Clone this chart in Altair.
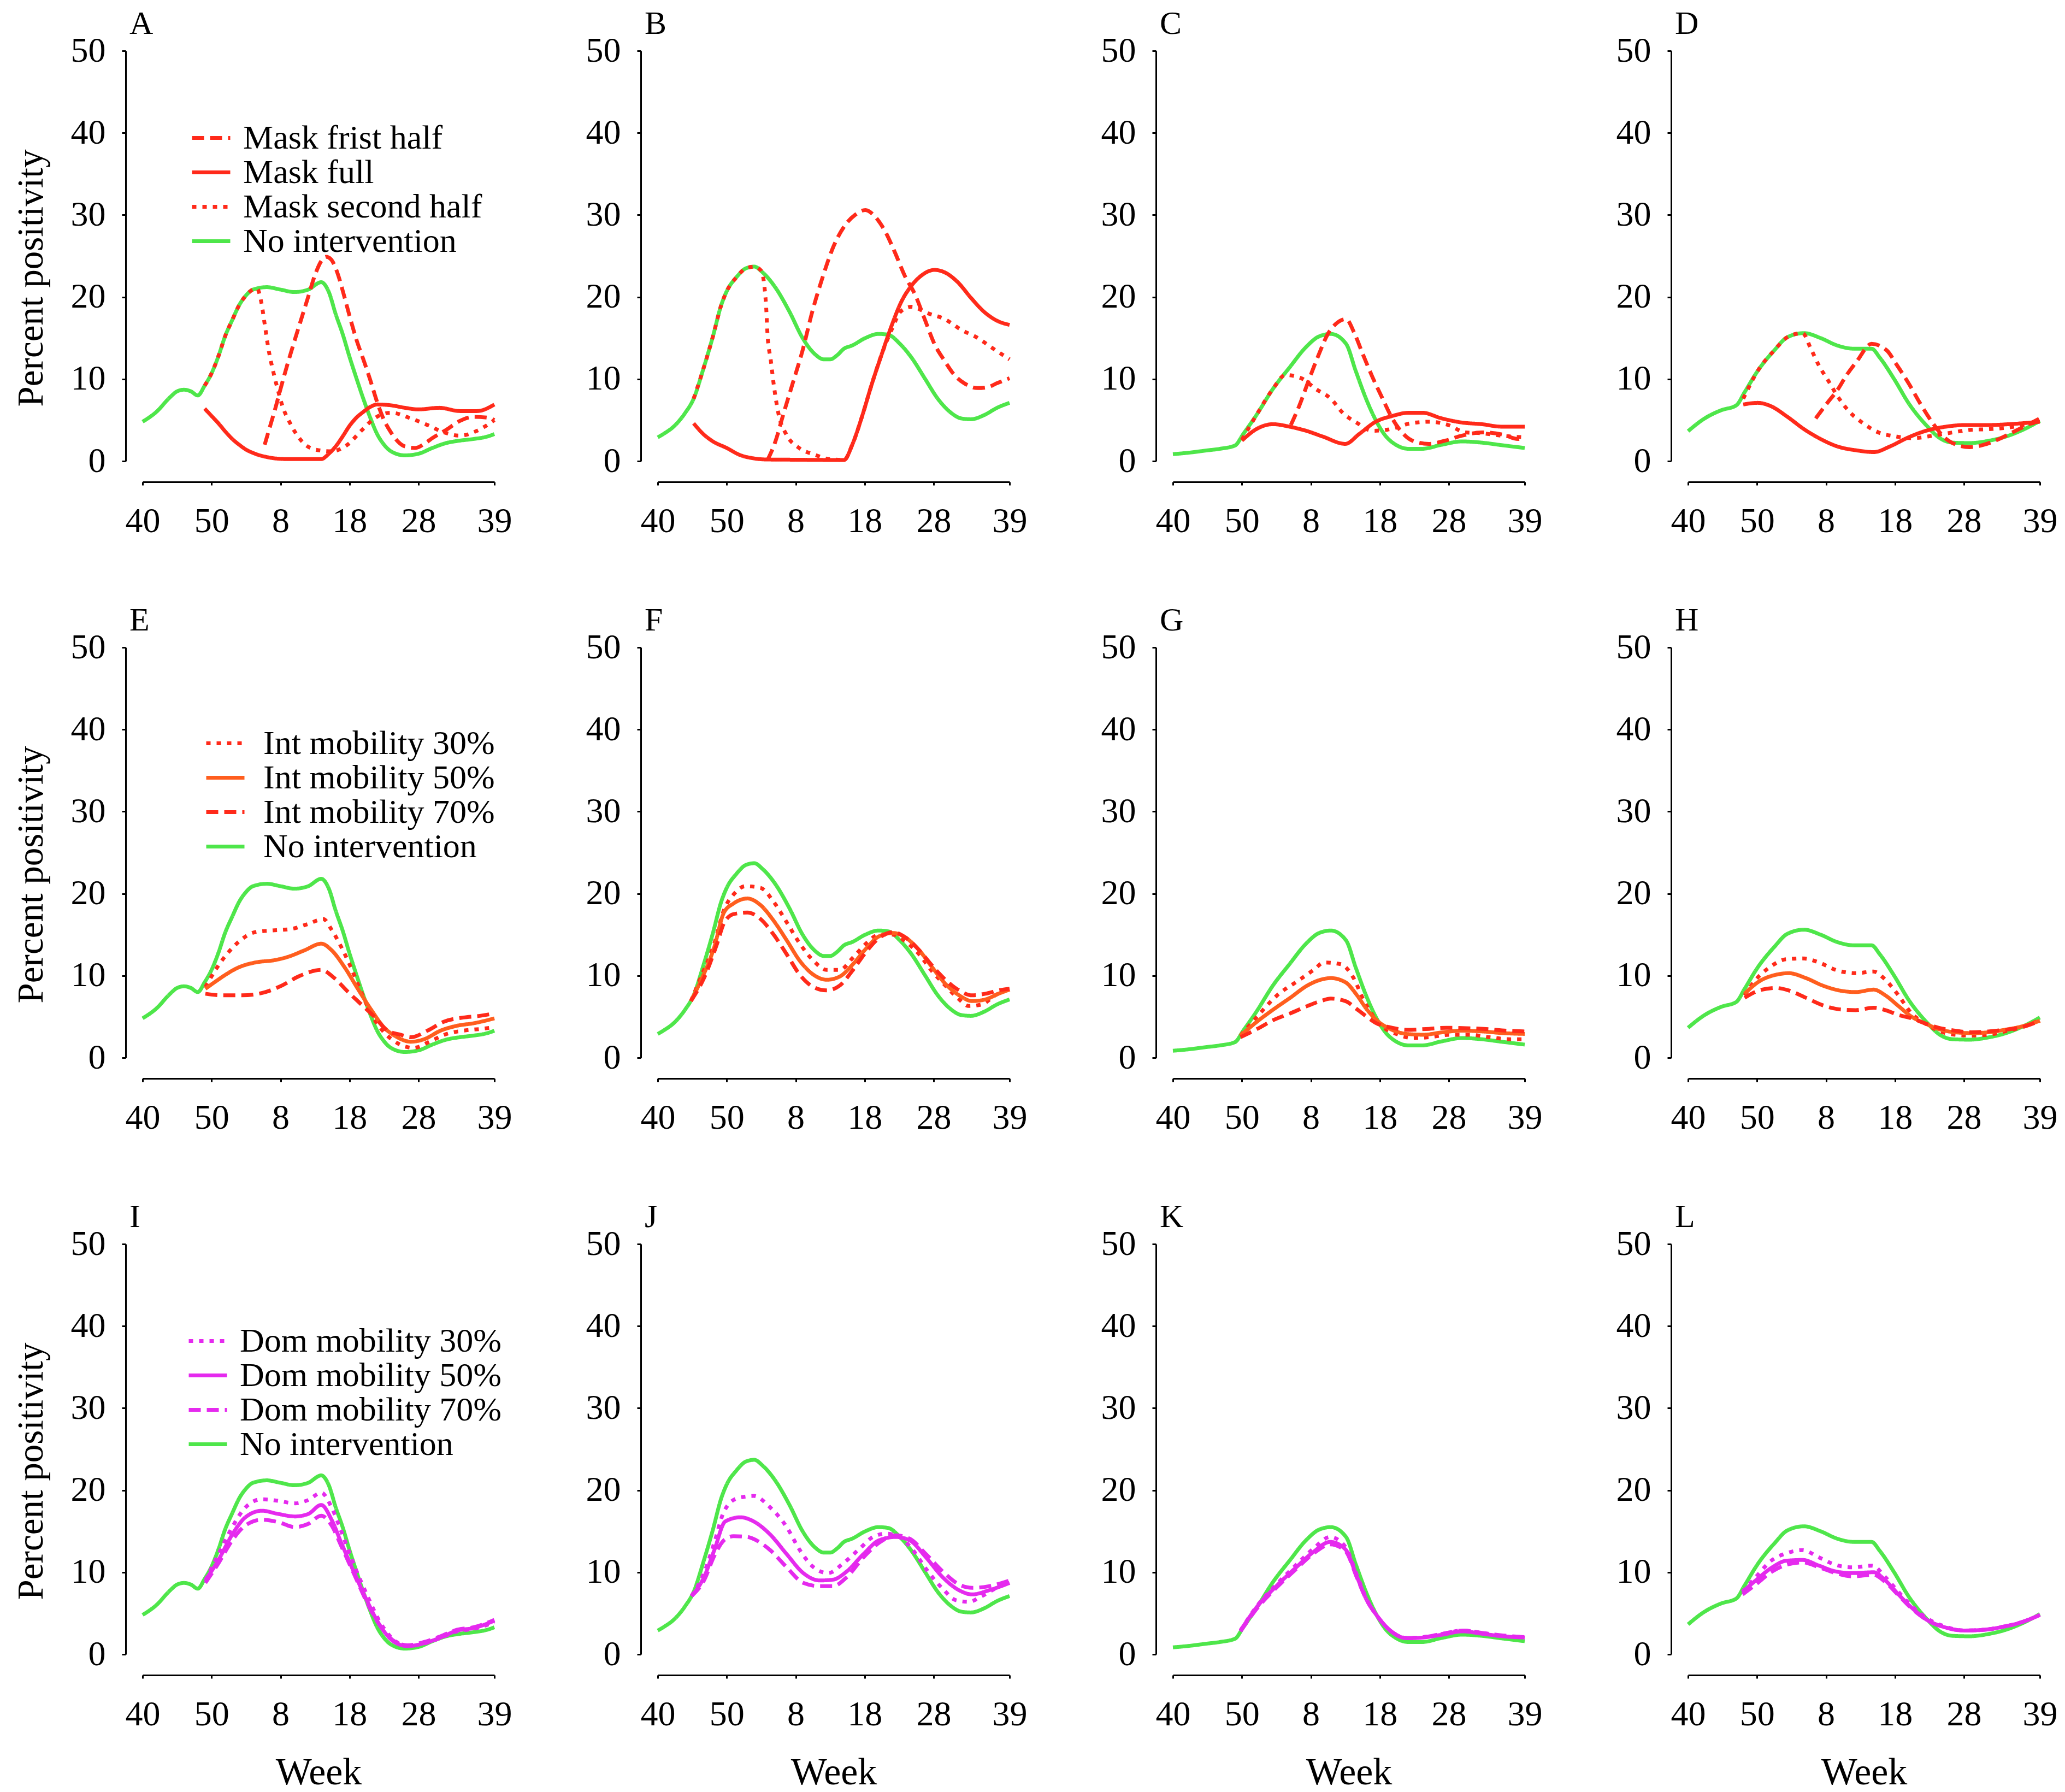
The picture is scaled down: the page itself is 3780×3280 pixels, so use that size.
import altair as alt
import pandas as pd

FONT = "Liberation Serif"
RED = "#FF2A1A"
GREEN = "#4EE64A"
ORANGE = "#FF5E1E"
MAGENTA = "#E52AEE"
NOI = "No intervention"

# x = week index (0 = week 40 ... 12 = week 52, 13 = week 1 ... 51 = week 39)
WEEK_TICKS = [0, 10, 20, 30, 40, 51]
WEEK_LABELS = ["40", "50", "8", "18", "28", "39"]
Y_TICKS = [0, 10, 20, 30, 40, 50]

# ---------------- No intervention (shared by each column) ----------------
GREEN_COL1 = [(0, 4.8), (2, 6.0), (4, 7.8), (5, 8.5), (6, 8.7), (7, 8.5), (8, 8.0), (9, 9.2), (10, 10.7),
              (11, 12.8), (12, 15.3), (13, 17.2), (14, 19.0), (15, 20.2), (16, 20.9), (18, 21.2), (20, 20.9),
              (22, 20.6), (24, 20.9), (25.9, 21.8), (27, 20.6), (28, 17.9), (29, 15.5), (30, 12.7), (31, 10.1),
              (32, 7.6), (33, 5.3), (34, 3.3), (35, 2.0), (36, 1.2), (38, 0.7), (40, 0.9), (42, 1.6), (44, 2.2),
              (46, 2.5), (48, 2.7), (50, 3.0), (51, 3.3)]
GREEN_COL2 = [(0, 2.9), (1, 3.4), (2.3, 4.2), (4, 5.9), (5.2, 7.6), (6.6, 11.2), (8, 15.2), (9.2, 19.0), (10, 20.7),
              (11.4, 22.4), (12.8, 23.5), (14, 23.7), (15.2, 23.0), (17.1, 21.1), (19.1, 18.2), (21, 15.0),
              (22.7, 13.1), (24.1, 12.4), (25, 12.4), (26, 12.9), (27, 13.7), (28.2, 14.1), (30.1, 15.0),
              (32, 15.5), (33.4, 15.4), (35.1, 14.3), (36.8, 12.6), (38.7, 10.1), (40.6, 7.6), (42.5, 5.9),
              (44, 5.2), (45.4, 5.1), (47.3, 5.6), (49.2, 6.5), (51, 7.1)]
GREEN_COL3 = [(0, 0.85), (2, 1.0), (4.9, 1.3), (6.8, 1.5), (9, 1.9), (10.2, 3.3), (12.1, 5.6), (14.5, 8.8),
              (16.9, 11.4), (19.3, 13.9), (21.2, 15.2), (22.9, 15.5), (25.1, 14.3), (26.5, 11.0), (28, 7.6),
              (29.4, 5.0), (30.8, 3.1), (32.3, 2.0), (34.2, 1.5), (36.1, 1.5), (39, 2.0), (41.9, 2.4),
              (44.8, 2.25), (47.6, 1.95), (51, 1.6)]
GREEN_COL4 = [(0, 3.65), (2.4, 5.2), (4.8, 6.2), (7, 6.8), (8.2, 8.4), (10.1, 11.0), (12.5, 13.5), (14.4, 15.1),
              (16.8, 15.6), (19.2, 15.0), (21.6, 14.1), (24, 13.7), (26.6, 13.7), (27.8, 12.6), (29.8, 10.1),
              (32.1, 6.9), (34.5, 4.4), (36.5, 2.8), (38.4, 2.25), (40.8, 2.2), (43.7, 2.5), (46.1, 3.0),
              (48.5, 3.8), (51, 4.9)]

# ---------------- Row 1: masks (first half, full, second half) ----------------
A_FIRST = [(17.7, 2.0), (18.5, 4.3), (19.2, 6.3), (20, 8.8), (21, 11.8), (22, 14.6), (23, 17.3), (24, 20.0),
           (25, 22.7), (26, 24.5), (26.6, 24.9), (27.3, 24.6), (28.3, 22.8), (29, 20.8), (30, 17.7), (31, 14.8),
           (32, 12.4), (33, 9.9), (34, 7.2), (35, 5.0), (36, 3.5), (37, 2.4), (38, 1.8), (39.5, 1.6), (41, 2.2),
           (42, 2.8), (44, 3.8), (46, 4.9), (48, 5.4), (50, 5.3), (51, 5.0)]
A_FULL = [(9, 6.4), (10, 5.5), (11, 4.6), (12, 3.6), (13, 2.7), (14, 2.0), (15, 1.4), (16, 1.0), (17, 0.7),
          (18, 0.5), (19, 0.35), (21, 0.25), (25.9, 0.25), (27, 0.9), (28, 1.8), (29, 3.0), (30, 4.3), (31, 5.3),
          (32, 6.0), (33, 6.6), (34, 6.9), (36, 6.8), (38, 6.5), (40, 6.3), (43, 6.5), (46, 6.1), (48.5, 6.1),
          (51, 6.9)]
A_SECOND = [(9, 9.2), (10, 10.7), (11, 12.8), (12, 15.3), (13, 17.2), (14, 19.0), (15, 20.2), (16, 20.9),
            (16.6, 21.0), (17.2, 19.4), (17.7, 16.7), (18.2, 13.9), (19, 10.7), (19.7, 8.4), (20.2, 6.9),
            (21.4, 4.6), (22.8, 2.7), (25, 1.4), (27.4, 1.2), (29.7, 2.0), (31.7, 3.7), (33.6, 5.2), (36, 5.9),
            (38.9, 5.2), (41.3, 4.4), (43.7, 3.5), (46, 3.1), (48.5, 3.7), (51, 5.0)]

B_FIRST = [(15.9, 0.1), (17.1, 2.5), (18.1, 5.4), (19.5, 9.3), (21, 13.5), (22.4, 18.2), (23.9, 22.4),
           (25.5, 26.2), (27.2, 28.8), (28.6, 30.0), (30.1, 30.6), (31.5, 29.8), (32.9, 28.1), (34.4, 25.4),
           (35.8, 22.6), (37.3, 20.3), (38.7, 17.3), (40.1, 14.3), (41.6, 12.2), (43, 10.5), (44.4, 9.5),
           (46.4, 8.9), (47.8, 9.0), (49.2, 9.5), (51, 10.1)]
B_FULL = [(5.2, 4.6), (6.6, 3.3), (8, 2.4), (10, 1.6), (11.9, 0.75), (13.8, 0.35), (15.7, 0.2), (20, 0.17),
          (27, 0.13), (28.2, 2.0), (29.6, 5.4), (31, 9.3), (32.5, 13.1), (33.9, 16.5), (35.3, 19.4), (36.8, 21.4),
          (38.2, 22.6), (40.1, 23.3), (41.6, 23.0), (43.5, 21.8), (45.4, 19.9), (47.3, 18.2), (49.2, 17.1),
          (51, 16.6)]
B_SECOND = [(5.2, 7.6), (6.6, 11.2), (8, 15.2), (9.2, 19.0), (10, 20.7), (11.4, 22.4), (12.8, 23.5), (14, 23.7),
            (15.0, 23.2), (15.7, 19.0), (15.9, 15.6), (16.4, 12.2), (16.9, 8.8), (17.6, 5.4), (18.6, 3.3),
            (20.5, 1.6), (22.7, 0.8), (24.8, 0.25), (27, 0.15), (28.2, 2.0), (29.6, 5.4), (31, 9.3), (32.5, 13.1),
            (33.9, 16.0), (35.3, 18.3), (36.8, 18.8), (39.2, 18.0), (41.6, 17.3), (44, 16.0), (46.4, 15.0),
            (48.3, 13.9), (51, 12.4)]

C_FIRST = [(17.1, 4.4), (18.3, 6.7), (19.8, 10.1), (21.2, 13.1), (22.4, 15.4), (23.6, 16.7), (25.1, 17.3),
           (26.3, 15.6), (27.5, 13.1), (28.9, 10.3), (30.4, 7.6), (31.8, 5.2), (33.2, 3.5), (34.7, 2.5),
           (37.1, 2.1), (39.5, 2.5), (41.9, 3.1), (44.8, 3.5), (48, 3.2), (50, 2.7), (51, 2.9)]
C_FULL = [(10, 2.5), (12.1, 3.9), (14.5, 4.5), (16.9, 4.2), (19.3, 3.7), (21.7, 3.0), (25, 2.1), (27, 3.3),
          (29.4, 4.8), (31.8, 5.5), (34.2, 5.9), (36.1, 5.9), (39, 5.2), (41.9, 4.7), (44.8, 4.5), (47.6, 4.2),
          (51, 4.2)]
C_SECOND = [(10, 2.6), (12.1, 5.6), (14.5, 8.8), (16.3, 10.5), (18.6, 10.1), (20.7, 8.8), (22.9, 7.6),
            (24.6, 5.9), (26.8, 4.6), (28.9, 3.7), (31.6, 3.9), (34.4, 4.6), (37.1, 4.8), (39.9, 4.4),
            (42.4, 3.5), (44.8, 3.4), (47.6, 3.1), (51, 2.9)]

D_FIRST = [(18.5, 5.2), (20.2, 7.1), (21.6, 8.6), (23, 10.5), (24.5, 12.2), (26.6, 14.3), (28.8, 13.5),
           (30.2, 11.8), (32.1, 9.3), (33.6, 7.1), (35.5, 4.6), (36.9, 3.1), (38.9, 2.0), (40.8, 1.7),
           (42.7, 1.95), (45.1, 2.7), (47.5, 3.7), (51, 5.2)]
D_FULL = [(8, 6.9), (10.1, 7.1), (12, 6.7), (14.4, 5.4), (16.8, 3.9), (19.2, 2.7), (21.6, 1.8), (24.5, 1.3),
          (26.9, 1.1), (29.3, 1.8), (31.7, 2.8), (34.5, 3.7), (37.4, 4.2), (40.3, 4.4), (43.7, 4.4), (46.5, 4.5),
          (51, 4.8)]
D_SECOND = [(8, 7.6), (10.1, 11.0), (12.5, 13.5), (14.4, 15.1), (16.6, 15.6), (17.8, 13.7), (19, 11.6),
            (20.4, 9.7), (21.6, 8.0), (23.3, 6.1), (25.4, 4.6), (27.6, 3.5), (30.2, 3.0), (32.6, 2.8), (35.5, 3.1),
            (38.4, 3.5), (40.8, 3.8), (43.7, 3.9), (46.5, 4.1), (51, 4.8)]

# ---------------- Row 2: international mobility (30 %, 50 %, 70 %) ----------------
E_30 = [(9.1, 8.6), (10.8, 11.0), (12.5, 12.9), (13.9, 14.1), (16.3, 15.3), (18.7, 15.5), (21.6, 15.7), (24, 16.3),
        (26.2, 16.9), (27.4, 15.6), (28.8, 13.5), (30.2, 11.0), (31.7, 8.0), (33.1, 5.4), (35, 3.1), (36.9, 1.8),
        (39.3, 1.2), (41.7, 2.0), (44.1, 2.9), (46.5, 3.3), (48.9, 3.5), (51, 3.7)]
E_50 = [(9.1, 8.4), (10.6, 9.3), (12, 10.1), (13.9, 11.0), (16.3, 11.6), (19.2, 11.9), (21.1, 12.3), (23.5, 13.1),
        (25.9, 13.9), (27.4, 13.1), (29.3, 11.0), (31.2, 8.4), (33.1, 5.9), (35, 3.7), (36.9, 2.5), (38.9, 1.95),
        (40.8, 2.25), (43.2, 3.3), (45.6, 3.9), (48, 4.2), (51, 4.8)]
E_70 = [(9.1, 7.8), (11.5, 7.6), (14.4, 7.6), (17.8, 8.0), (20.2, 8.8), (22.6, 9.9), (25.9, 10.7), (27.8, 9.7),
        (29.8, 8.0), (31.7, 6.5), (33.6, 5.0), (35.5, 3.3), (37.4, 2.8), (38.9, 2.5), (41.3, 3.3), (43.7, 4.4),
        (46.5, 4.9), (48.9, 5.1), (51, 5.4)]

F_30 = [(4.8, 6.9), (6.2, 9.7), (8.2, 13.9), (9.6, 18.0), (11, 19.9), (12.7, 20.9), (14.9, 20.7), (16.8, 19.0),
        (18.7, 16.5), (20.6, 13.9), (22.6, 11.8), (24.5, 10.7), (26.4, 10.7), (28.3, 12.2), (30.2, 13.9),
        (32.1, 15.0), (34.1, 15.0), (36, 14.1), (37.9, 12.6), (39.8, 10.5), (41.7, 8.8), (43.7, 7.1), (45.1, 6.3),
        (47, 6.5), (48.9, 7.6), (51, 8.4)]
F_50 = [(4.8, 6.9), (6.2, 9.3), (8.2, 13.5), (9.6, 17.7), (11, 18.8), (13, 19.4), (14.9, 18.6), (16.8, 16.7),
        (18.7, 14.3), (20.6, 11.8), (22.6, 10.1), (24.5, 9.5), (26.4, 9.9), (28.3, 11.4), (30.2, 13.3),
        (32.1, 14.8), (34.1, 15.2), (36, 14.6), (37.9, 13.1), (39.8, 11.0), (41.7, 9.0), (43.7, 7.6), (45.6, 6.9),
        (47.5, 7.1), (49.4, 7.8), (51, 8.3)]
F_70 = [(4.8, 6.9), (6.7, 9.7), (8.6, 13.9), (9.6, 16.4), (11, 17.5), (13, 17.7), (14.9, 16.9), (16.8, 15.0),
        (18.7, 12.6), (20.6, 10.1), (22.6, 8.6), (24.5, 8.2), (26.4, 8.8), (28.3, 10.7), (30.2, 12.9), (32.1, 14.6),
        (34.1, 15.3), (36, 14.6), (37.9, 13.1), (39.8, 11.2), (41.7, 9.5), (43.7, 8.2), (45.6, 7.6), (47.5, 7.8),
        (49.4, 8.2), (51, 8.4)]

G_30 = [(9.8, 2.7), (12.2, 5.0), (15.1, 7.6), (18, 9.3), (20.4, 10.7), (21.9, 11.6), (24.3, 11.4), (26.2, 9.7),
        (27.6, 7.1), (29.1, 5.0), (30.5, 3.7), (32.4, 2.9), (34.8, 2.4), (37.2, 2.5), (40.1, 2.8), (43, 2.8),
        (45.9, 2.5), (48.8, 2.25), (51, 2.25)]
G_50 = [(9.8, 2.7), (12.2, 4.4), (14.6, 5.9), (17, 7.3), (19.5, 8.8), (21.4, 9.5), (22.9, 9.7), (25, 9.2),
        (26.7, 7.6), (28.1, 5.9), (29.5, 4.6), (31.5, 3.5), (33.9, 2.9), (36.3, 2.8), (39.1, 3.1), (42, 3.3),
        (44.9, 3.2), (47.8, 3.0), (51, 2.9)]
G_70 = [(9.8, 2.5), (12.2, 3.5), (14.6, 4.6), (17, 5.4), (19.5, 6.3), (21.4, 6.9), (22.9, 7.2), (25, 6.9),
        (26.7, 5.9), (28.1, 5.0), (29.5, 4.2), (31.5, 3.7), (33.9, 3.4), (36.7, 3.5), (39.6, 3.65), (42.5, 3.6),
        (45.4, 3.5), (48.3, 3.3), (51, 3.2)]

H_30 = [(8.2, 7.6), (9.8, 9.5), (11.8, 11.0), (14.2, 12.0), (16.6, 12.1), (19, 11.6), (21.4, 10.7), (24.3, 10.3),
        (26.9, 10.5), (28.6, 9.5), (30.5, 7.6), (32.4, 5.4), (34.3, 4.2), (36.3, 3.3), (38.7, 2.8), (41.1, 2.7),
        (43.5, 2.8), (45.9, 3.2), (48.3, 3.7), (51, 4.6)]
H_50 = [(8.2, 7.8), (10.3, 9.3), (12.7, 10.1), (14.6, 10.3), (17.1, 9.7), (19.5, 8.8), (21.9, 8.2), (24.3, 8.0),
        (26.9, 8.3), (28.6, 7.6), (30.5, 6.3), (32.4, 5.0), (34.3, 4.2), (36.3, 3.5), (38.7, 3.1), (41.1, 3.0),
        (43.5, 3.1), (45.9, 3.4), (48.3, 3.8), (51, 4.5)]
H_70 = [(8.2, 7.3), (10.3, 8.2), (12.7, 8.5), (14.6, 8.2), (17.1, 7.3), (19.5, 6.4), (21.9, 5.9), (24.3, 5.8),
        (26.9, 6.1), (28.6, 5.8), (30.5, 5.2), (32.4, 4.8), (34.3, 4.2), (36.3, 3.65), (38.7, 3.3), (41.1, 3.1),
        (43.5, 3.2), (45.9, 3.4), (48.3, 3.7), (51, 4.5)]

# ---------------- Row 3: domestic mobility (30 %, 50 %, 70 %) ----------------
I_30 = [(9.1, 9.0), (11, 12.2), (13, 15.5), (14.9, 17.9), (17.3, 18.9), (19.7, 18.7), (22.1, 18.4), (24, 18.8),
        (25.9, 19.7), (27.4, 17.9), (28.8, 15.0), (30.7, 10.8), (32.6, 7.1), (34.5, 3.8), (36.5, 1.7), (38.4, 1.0),
        (40.8, 1.3), (43.2, 2.0), (45.6, 2.8), (48, 3.1), (51, 3.9)]
I_50 = [(9.1, 9.0), (11, 11.5), (13, 14.6), (14.9, 16.7), (17.3, 17.5), (19.7, 17.1), (22.1, 16.8), (24, 17.1),
        (25.9, 18.2), (27.4, 16.4), (28.8, 13.6), (30.7, 9.9), (32.6, 6.4), (34.5, 3.4), (36.5, 1.5), (38.4, 1.0),
        (40.8, 1.35), (43.2, 2.05), (45.6, 2.9), (48, 3.2), (51, 4.1)]
I_70 = [(9.1, 8.7), (11, 11.1), (13, 13.9), (14.9, 15.7), (17.3, 16.4), (19.7, 16.1), (22.1, 15.5), (24, 15.9),
        (25.9, 16.9), (27.4, 15.7), (28.8, 13.2), (30.7, 9.7), (32.6, 6.2), (34.5, 3.4), (36.5, 1.6), (38.4, 1.1),
        (40.8, 1.5), (43.2, 2.2), (45.6, 3.0), (48, 3.3), (51, 4.2)]

J_30 = [(4.9, 7.1), (6.7, 9.9), (8.2, 13.6), (9.6, 17.4), (11.5, 19.0), (13.9, 19.3), (16.3, 17.9), (18.7, 15.5),
        (20.6, 12.7), (22.6, 10.6), (24.7, 9.9), (26.9, 11.1), (29.3, 12.9), (31.2, 14.3), (33.1, 14.7), (35, 14.3),
        (37, 12.7), (38.9, 10.4), (41.3, 8.0), (43.2, 6.6), (45.1, 6.4), (47, 7.1), (48.9, 8.0), (51, 8.7)]
J_50 = [(4.9, 7.1), (6.7, 9.4), (8.2, 12.7), (9.8, 16.2), (12, 16.7), (13.9, 16.2), (16.3, 14.6), (18.7, 12.2),
        (21.1, 9.9), (23.5, 9.0), (25.4, 9.1), (27.4, 10.1), (29.8, 12.2), (32.1, 13.9), (34.5, 14.3), (36.5, 13.9),
        (38.9, 11.8), (41.3, 9.4), (43.7, 7.8), (45.6, 7.3), (48, 7.8), (51, 8.7)]
J_70 = [(4.9, 7.1), (6.7, 9.0), (8.2, 12.0), (9.6, 13.9), (11, 14.4), (13, 14.3), (14.5, 13.8), (16.3, 12.7),
        (18.7, 10.6), (21.1, 8.7), (23.5, 8.3), (25.4, 8.3), (27.4, 9.4), (29.8, 11.8), (32.1, 13.6), (34.5, 14.5),
        (36.5, 14.1), (38.9, 12.2), (41.3, 10.1), (43.7, 8.5), (45.6, 8.1), (48, 8.3), (51, 9.0)]

K_30 = [(9.8, 2.9), (12.2, 5.9), (15.1, 8.6), (18, 11.0), (20.4, 12.9), (22.8, 14.3), (25, 13.1), (26.7, 9.6),
        (28.1, 6.7), (29.5, 4.8), (31.5, 2.9), (33.9, 2.0), (36.3, 2.1), (39.1, 2.5), (42, 2.9), (44.9, 2.6),
        (47.8, 2.2), (51, 2.1)]
K_50 = [(9.8, 2.9), (12.2, 5.8), (15.1, 8.4), (18, 10.7), (20.4, 12.5), (22.8, 13.7), (25, 12.8), (26.7, 9.4),
        (28.1, 6.6), (29.5, 4.8), (31.5, 2.9), (33.9, 1.96), (36.3, 2.05), (39.1, 2.4), (42, 2.8), (44.9, 2.5),
        (47.8, 2.2), (51, 2.05)]
K_70 = [(9.8, 2.8), (12.2, 5.6), (15.1, 8.2), (18, 10.5), (20.4, 12.3), (22.8, 13.4), (25, 12.6), (26.7, 9.3),
        (28.1, 6.6), (29.5, 4.8), (31.5, 2.9), (33.9, 2.0), (36.3, 2.1), (39.1, 2.5), (42, 2.9), (44.9, 2.6),
        (47.8, 2.3), (51, 2.1)]

L_30 = [(7.9, 7.6), (9.8, 9.4), (12.2, 11.5), (14.2, 12.3), (16.6, 12.7), (19, 11.8), (21.4, 10.9), (23.8, 10.6),
        (26.7, 10.8), (28.6, 9.4), (30.5, 7.6), (32.4, 5.9), (34.8, 4.3), (37.2, 3.4), (40.1, 2.9), (43, 3.0),
        (45.9, 3.4), (48.3, 3.9), (51, 4.8)]
L_50 = [(7.9, 7.6), (9.8, 9.0), (12.2, 10.6), (14.2, 11.4), (16.6, 11.5), (19, 10.8), (21.4, 10.1), (23.8, 9.9),
        (26.9, 10.0), (28.6, 9.0), (30.5, 7.3), (32.4, 5.7), (34.8, 4.1), (37.2, 3.3), (40.1, 2.9), (43, 3.0),
        (45.9, 3.4), (48.3, 3.9), (51, 4.8)]
L_70 = [(7.9, 7.3), (9.8, 8.5), (12.2, 10.1), (14.2, 10.9), (16.6, 11.2), (19, 10.6), (21.4, 9.9), (23.8, 9.5),
        (26.9, 9.7), (28.6, 8.8), (30.5, 7.2), (32.4, 5.6), (34.8, 4.1), (37.2, 3.3), (40.1, 2.9), (43, 3.0),
        (45.9, 3.4), (48.3, 3.9), (51, 4.8)]

ROW_NAMES = [
    ["Mask frist half", "Mask full", "Mask second half", NOI],
    ["Int mobility 30%", "Int mobility 50%", "Int mobility 70%", NOI],
    ["Dom mobility 30%", "Dom mobility 50%", "Dom mobility 70%", NOI],
]
ROW_COLORS = [
    [RED, RED, RED, GREEN],
    [RED, ORANGE, RED, GREEN],
    [MAGENTA, MAGENTA, MAGENTA, GREEN],
]
DASHED = [22, 11]
SOLID = [1, 0]
DOTTED = [8, 11]
ROW_DASHES = [
    [DASHED, SOLID, DOTTED, SOLID],
    [DOTTED, SOLID, DASHED, SOLID],
    [DOTTED, SOLID, DASHED, SOLID],
]

GREENS = [GREEN_COL1, GREEN_COL2, GREEN_COL3, GREEN_COL4]
INTERVENTIONS = {
    "A": [A_FIRST, A_FULL, A_SECOND], "B": [B_FIRST, B_FULL, B_SECOND],
    "C": [C_FIRST, C_FULL, C_SECOND], "D": [D_FIRST, D_FULL, D_SECOND],
    "E": [E_30, E_50, E_70], "F": [F_30, F_50, F_70], "G": [G_30, G_50, G_70], "H": [H_30, H_50, H_70],
    "I": [I_30, I_50, I_70], "J": [J_30, J_50, J_70], "K": [K_30, K_50, K_70], "L": [L_30, L_50, L_70],
}
# legend placement inside the first panel of each row: (x, y, label offset)
LEGEND_POS = {"A": (87, 128, 20), "E": (113, 144, 31), "I": (81, 146, 20)}

PLOT_W = 644
PLOT_H = 751
LINE_W = 7

label_expr = ""
for t, lab in zip(WEEK_TICKS, WEEK_LABELS):
    label_expr += f"datum.value == {t} ? '{lab}' : "
label_expr += "''"

panels = []
for k, letter in enumerate("ABCDEFGHIJKL"):
    r, c = divmod(k, 4)
    names = ROW_NAMES[r]
    recs = []
    for x, v in GREENS[c]:
        recs.append({"x": x, "v": v, "series": NOI})
    for name, pts in zip(names[:3], INTERVENTIONS[letter]):
        for x, v in pts:
            recs.append({"x": x, "v": v, "series": name})
    df = pd.DataFrame(recs)

    if c == 0:
        lx, ly, loff = LEGEND_POS[letter]
        legend = alt.Legend(
            title=None, orient="none", legendX=lx, legendY=ly, direction="vertical",
            symbolType="stroke", symbolSize=4900, symbolStrokeWidth=LINE_W,
            labelFont=FONT, labelFontSize=62, labelColor="black", labelLimit=3000,
            labelOffset=loff, rowPadding=0, clipHeight=63, padding=0,
        )
    else:
        legend = None

    x_axis = alt.Axis(values=WEEK_TICKS, labelExpr=label_expr, title="Week" if r == 2 else None)
    y_axis = alt.Axis(values=Y_TICKS, title="Percent positivity" if c == 0 else None)

    base = alt.Chart(df).mark_line(interpolate="monotone", strokeWidth=LINE_W).encode(
        x=alt.X("x:Q", scale=alt.Scale(domain=[0, 51], nice=False, zero=False), axis=x_axis),
        y=alt.Y("v:Q", scale=alt.Scale(domain=[0, 50], nice=False), axis=y_axis),
        color=alt.Color("series:N", scale=alt.Scale(domain=names, range=ROW_COLORS[r]), legend=legend),
        strokeDash=alt.StrokeDash("series:N", scale=alt.Scale(domain=names, range=ROW_DASHES[r]), legend=legend),
    )
    green = base.transform_filter(alt.datum.series == NOI)
    others = base.transform_filter(alt.datum.series != NOI)
    panel = alt.layer(green, others).properties(
        width=PLOT_W, height=PLOT_H,
        title=alt.TitleParams(letter, anchor="start", frame="group", dx=-24, offset=-14),
    )
    panels.append(panel)

chart = alt.concat(
    *panels, columns=4, spacing=alt.RowColnumber(row=341, column=299), bounds="flush"
).resolve_scale(
    x="independent", y="independent", color="independent", strokeDash="independent"
).properties(
    padding={"left": 15, "top": 6, "right": 5, "bottom": 5}
).configure_axis(
    domainColor="black", domainWidth=3, tickColor="black", tickWidth=3,
    labelFont=FONT, labelFontSize=64, labelColor="black",
    titleFont=FONT, titleFontSize=67, titleFontWeight="normal", titleColor="black",
    grid=False,
).configure_axisX(
    offset=38, tickSize=6, labelPadding=34, titlePadding=40, labelFlush=False, labelOverlap=False,
    titleFontSize=70,
).configure_axisY(
    offset=31, tickSize=7, labelPadding=30, titlePadding=38, labelOverlap=False,
    titleY=PLOT_H / 2 + 40,
).configure_title(
    font=FONT, fontSize=60, fontWeight="normal", color="black",
).configure_view(
    strokeWidth=0
)

chart.save("out.html", embed_options={"renderer": "svg", "actions": False})
